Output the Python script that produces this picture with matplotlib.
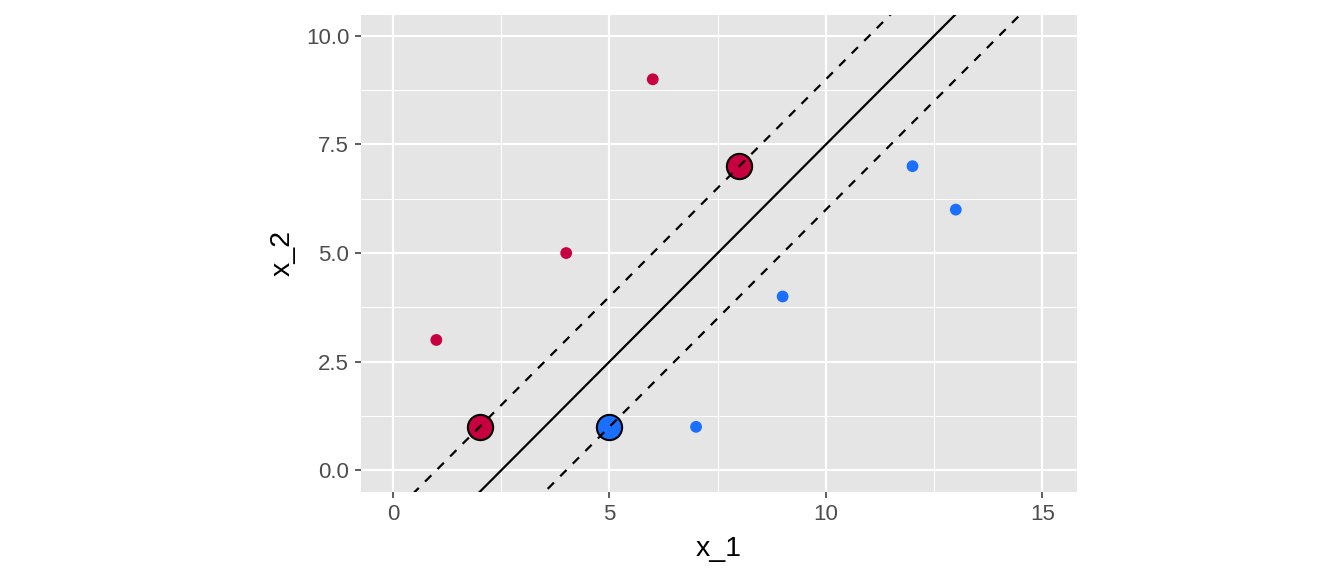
import numpy as np
import matplotlib.pyplot as plt

plt.rcParams['font.family'] = ['Liberation Sans', 'DejaVu Sans']

# observations
x1 = [1, 4, 6, 2, 8, 7, 9, 12, 13, 5]
x2 = [3, 5, 9, 1, 7, 1, 4, 7, 6, 1]
cls = ['red', 'red', 'red', 'red', 'red', 'blue', 'blue', 'blue', 'blue', 'blue']
support = [False, False, False, True, True, False, False, False, False, True]

# hyperplane and margins: y = slope * x + intercept
slope = 1.0
intercepts = [-2.5, -1.0, -4.0]
styles = ['solid', 'dashed', 'dashed']

colors = {'red': '#C7003F', 'blue': '#1A6FFF'}

fig = plt.figure(figsize=(13.44, 5.76), dpi=100)
ax = fig.add_axes([361 / 1344, 1 - 492 / 576, (1077 - 361) / 1344, (492 - 15) / 576])
ax.set_facecolor('#E5E5E5')
for s in ax.spines.values():
    s.set_visible(False)

ax.set_xlim(-0.74, 15.8)
ax.set_ylim(-0.5, 10.48)

ax.set_xticks([0, 5, 10, 15])
ax.set_yticks([0, 2.5, 5, 7.5, 10])
ax.set_yticklabels(['0.0', '2.5', '5.0', '7.5', '10.0'])
ax.set_xticks([2.5, 7.5, 12.5], minor=True)
ax.set_yticks([1.25, 3.75, 6.25, 8.75], minor=True)
ax.grid(which='major', color='white', linewidth=1.6)
ax.grid(which='minor', color='white', linewidth=0.8)
ax.set_axisbelow(True)
ax.tick_params(which='major', length=4, width=1.1, color='#333333', labelsize=16,
               labelcolor='#4D4D4D', pad=4.5)
ax.tick_params(which='minor', length=0)

# small points
for a, b, c, s in zip(x1, x2, cls, support):
    if not s:
        ax.scatter(a, b, s=72, color=colors[c], edgecolor='none', zorder=3)
# support vectors
for a, b, c, s in zip(x1, x2, cls, support):
    if s:
        ax.scatter(a, b, s=330, color=colors[c], edgecolor='black', linewidth=1.5, zorder=3)

xs = np.array([-1, 17])
for icpt, ls in zip(intercepts, styles):
    ax.plot(xs, slope * xs + icpt, color='black', linewidth=1.6,
            linestyle=ls if ls == 'solid' else (0, (4, 4)), zorder=4)

ax.set_xlabel('x_1', fontsize=20.5, labelpad=8)
ax.set_ylabel('x_2', fontsize=20.5, labelpad=7)

fig.savefig('out.png', dpi=100)
